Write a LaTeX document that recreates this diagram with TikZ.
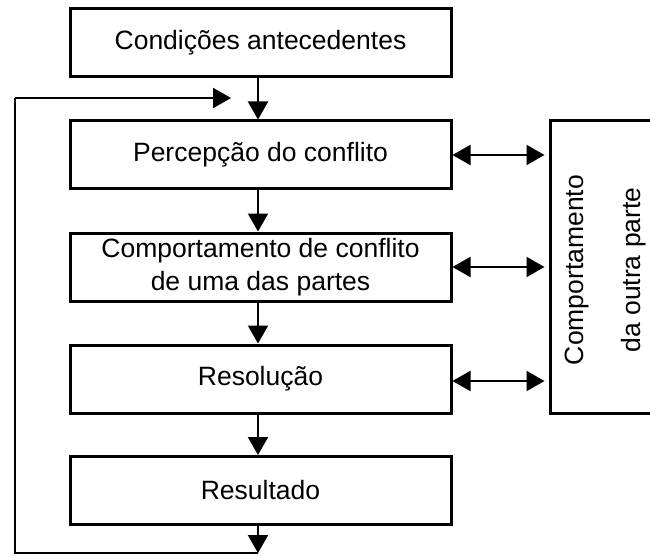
\documentclass[tikz,border=0pt]{standalone}
\usepackage{fontspec}
\setmainfont{Liberation Sans}
\usetikzlibrary{arrows.meta}
\begin{document}
\begin{tikzpicture}[x=1pt,y=-1pt,
 box/.style={draw,line width=3pt,minimum width=381pt,minimum height=68pt,inner sep=0pt,align=center,font=\fontsize{26.5}{33}\selectfont},
 arr/.style={line width=2pt,-{Triangle[length=18pt,width=20pt]}},
 darr/.style={line width=2pt,{Triangle[length=18pt,width=20pt]}-{Triangle[length=18pt,width=20pt]}},
 fb/.style={line width=2.4pt}]
\useasboundingbox (0,0) rectangle (650,556);
\clip (0,0) rectangle (650,556);
\node[box] (cond) at (260.5,42.5) {Condições antecedentes};
\node[box] (perc) at (260.5,155) {Percepção do conflito};
\node[box] (comp) at (260.5,267) {Comportamento de conflito\\de uma das partes};
\node[box] (reso) at (260.5,379) {Resolução};
\node[box] (resu) at (260.5,490.5) {Resultado};
\node[draw,line width=3pt,minimum width=110pt,minimum height=292pt,inner sep=0pt] (outra) at (605,267) {};
\node[rotate=90,align=center,font=\fontsize{26.5}{57}\selectfont] (outratxt) at (605,270) {Comportamento\\da outra parte};
\coordinate (bot) at (258,553);
\coordinate (lb) at (15,553);
\coordinate (lt) at (15,98);
\coordinate (fbend) at (231,98);
\draw[arr] (cond.south -| 258,0) -- (perc.north -| 258,0);
\draw[arr] (perc.south -| 258,0) -- (comp.north -| 258,0);
\draw[arr] (comp.south -| 258,0) -- (reso.north -| 258,0);
\draw[arr] (reso.south -| 258,0) -- (resu.north -| 258,0);
\draw[arr] (resu.south -| 258,0) -- (bot);
\draw[fb] (bot) -- (lb) -- (lt);
\draw[arr] (lt) -- (fbend);
\draw[darr,shorten >=4pt] (perc.east) -- (perc.east -| outra.west);
\draw[darr,shorten >=4pt] (comp.east) -- (comp.east -| outra.west);
\draw[darr,shorten >=4pt] ([yshift=-2pt]reso.east) -- ([yshift=-2pt]reso.east -| outra.west);
\end{tikzpicture}
\end{document}
